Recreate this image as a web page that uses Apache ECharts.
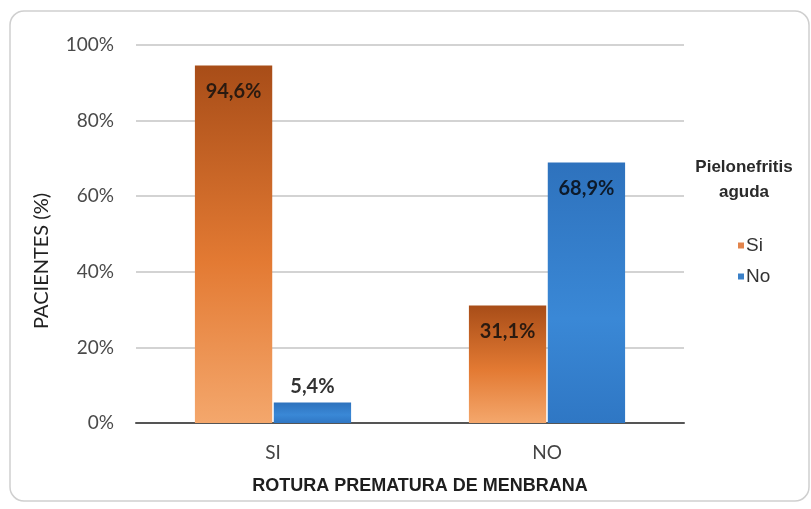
<!DOCTYPE html>
<html>
<head>
<meta charset="utf-8">
<script src="https://cdn.jsdelivr.net/npm/echarts@6/dist/echarts.min.js"></script>
<style>
  html, body { margin: 0; padding: 0; background: #fff; }
  #chart { width: 811px; height: 509px; }
</style>
</head>
<body>
<div id="chart"></div>
<script>
// data
const categories = ['SI', 'NO'];
const seriesNames = ['Si', 'No'];
const valuesSi = [94.6, 31.1];
const valuesNo = [5.4, 68.9];
const yTicks = [0, 20, 40, 60, 80, 100];

function fmt(v) {
    return v.toFixed(1).replace('.', ',') + '%';
}

let chart = echarts.init(document.getElementById('chart'));

let orangeFill = new echarts.graphic.LinearGradient(0, 0, 0, 1, [
    { offset: 0, color: '#a84d18' },
    { offset: 0.55, color: '#e37a33' },
    { offset: 1, color: '#f4a76c' }
]);
let blueFill = new echarts.graphic.LinearGradient(0, 0, 0, 1, [
    { offset: 0, color: '#2e72bd' },
    { offset: 0.6, color: '#3a88d6' },
    { offset: 1, color: '#2f77c4' }
]);

let labelStyle = {
    show: true,
    position: 'insideTop',
    distance: 16,
    fontFamily: 'Lato, "Open Sans", sans-serif',
    fontWeight: 'bold',
    fontSize: 20,
    color: '#2a1a10',
    formatter: function (p) { return fmt(p.value); }
};

let option = {
    animation: false,
    backgroundColor: '#fff',
    graphic: [{
        type: 'rect',
        shape: { x: 10, y: 11, width: 799, height: 490, r: 14 },
        style: { fill: 'none', stroke: '#cfcfcf', lineWidth: 1.5 },
        z: -1
    }],
    title: {
        text: 'Pielonefritis\naguda',
        left: 739,
        top: 150,
        textAlign: 'center',
        textStyle: {
            fontFamily: '"Liberation Sans", sans-serif',
            fontWeight: 'bold',
            fontSize: 17,
            lineHeight: 25,
            color: '#2a2a2a'
        }
    },
    legend: {
        orient: 'vertical',
        left: 733,
        top: 231,
        itemGap: 12,
        itemWidth: 6,
        itemHeight: 6,
        icon: 'rect',
        textStyle: {
            fontFamily: '"Liberation Sans", sans-serif',
            fontSize: 19,
            color: '#333',
            padding: [0, 0, 0, -3]
        },
        data: [
            { name: seriesNames[0], itemStyle: { color: '#e2844c' } },
            { name: seriesNames[1], itemStyle: { color: '#3a80c8' } }
        ]
    },
    grid: {
        left: 136,
        right: 127,
        top: 45,
        bottom: 86
    },
    xAxis: {
        type: 'category',
        data: categories,
        name: 'ROTURA PREMATURA DE MENBRANA',
        nameLocation: 'middle',
        nameGap: 54,
        nameTextStyle: {
            fontFamily: '"Liberation Sans", sans-serif',
            fontWeight: 'bold',
            fontSize: 18,
            color: '#1e1e1e',
            padding: [0, 0, 0, 20]
        },
        axisLine: { lineStyle: { color: '#555', width: 2 } },
        axisTick: { show: false },
        axisLabel: {
            margin: 20,
            fontFamily: 'Lato, "Open Sans", sans-serif',
            fontSize: 19,
            color: '#444'
        }
    },
    yAxis: {
        type: 'value',
        min: yTicks[0],
        max: yTicks[yTicks.length - 1],
        interval: 20,
        name: 'PACIENTES (%)',
        nameLocation: 'middle',
        nameGap: 84,
        nameTextStyle: {
            fontFamily: 'Lato, "Open Sans", sans-serif',
            fontSize: 20,
            color: '#222',
            padding: [0, 54, 0, 0]
        },
        axisLine: { show: false },
        axisTick: { show: false },
        splitLine: { lineStyle: { color: '#c4c4c4', width: 1.5 } },
        axisLabel: {
            margin: 22,
            fontFamily: 'Lato, "Open Sans", sans-serif',
            fontSize: 19,
            color: '#4a4a4a',
            formatter: '{value}%'
        }
    },
    series: [
        {
            name: seriesNames[0],
            type: 'bar',
            data: valuesSi,
            barGap: '2%',
            barCategoryGap: '43%',
            itemStyle: { color: orangeFill },
            label: labelStyle
        },
        {
            name: seriesNames[1],
            type: 'bar',
            data: valuesNo.map(function (v) {
                if (v < 15) {
                    return { value: v, label: { position: 'top', distance: 6, color: '#333' } };
                }
                return { value: v };
            }),
            barGap: '2%',
            barCategoryGap: '43%',
            itemStyle: { color: blueFill },
            label: Object.assign({}, labelStyle, { color: '#0d1a2a' })
        }
    ]
};

option && chart.setOption(option);
</script>
</body>
</html>
